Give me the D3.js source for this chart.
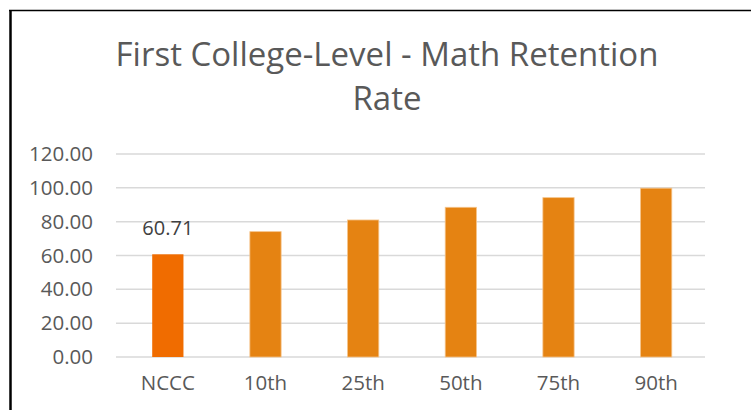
<!DOCTYPE html>
<html>
<head>
<meta charset="utf-8">
<script src="https://cdn.jsdelivr.net/npm/d3@7"></script>
<style>
  body { margin: 0; background: #fff; }
  svg { display: block; }
</style>
</head>
<body>
<script>
// chart data
var categories = ['NCCC', '10th', '25th', '50th', '75th', '90th'];
var values = [60.71, 74.1, 81.0, 88.5, 94.2, 99.8];
var yTicks = [0, 20, 40, 60, 80, 100, 120];
var labelledBar = ['NCCC'];

var w = 751;
var h = 410;
var font = "'Open Sans', sans-serif";

var svg = d3.select('body')
    .append('svg')
    .attr('width', w)
    .attr('height', h);

svg.append('rect')
    .attr('width', w)
    .attr('height', h)
    .attr('fill', '#fff');

// chart frame (only top and left edges show)
svg.append('line')
    .attr('x1', 9).attr('x2', w)
    .attr('y1', 10.5).attr('y2', 10.5)
    .attr('stroke', '#000').attr('stroke-width', 1.5);
svg.append('line')
    .attr('x1', 10.5).attr('x2', 10.5)
    .attr('y1', 10).attr('y2', h)
    .attr('stroke', '#000').attr('stroke-width', 2.5);

// title
var title = svg.append('text')
    .attr('text-anchor', 'middle')
    .attr('font-family', font)
    .attr('font-size', '33px')
    .attr('fill', '#595959');
title.append('tspan').attr('x', 387).attr('y', 66).text('First College-Level - Math Retention');
title.append('tspan').attr('x', 387).attr('y', 110).text('Rate');

var x = d3.scaleBand()
    .domain(categories)
    .range([119, 705])
    .paddingInner(0.68)
    .paddingOuter(0.34);

var y = d3.scaleLinear()
    .domain([0, 120])
    .range([357, 154]);

// gridlines
svg.selectAll('line.grid')
    .data(yTicks)
    .enter()
    .append('line')
    .attr('class', 'grid')
    .attr('x1', 116)
    .attr('x2', 705)
    .attr('y1', function(d){ return y(d); })
    .attr('y2', function(d){ return y(d); })
    .attr('stroke', '#d9d9d9')
    .attr('stroke-width', 1.5);

// y axis labels
var yAxis = d3.axisLeft(y)
    .tickValues(yTicks)
    .tickFormat(d3.format('.2f'))
    .tickSize(0)
    .tickPadding(0);
var gy = svg.append('g')
    .attr('transform', 'translate(93,0)')
    .call(yAxis);
gy.select('.domain').remove();
gy.selectAll('text')
    .attr('font-family', font)
    .attr('font-size', '20.5px')
    .attr('fill', '#595959');

// x axis labels
var xAxis = d3.axisBottom(x).tickSize(0).tickPadding(0);
var gx = svg.append('g')
    .attr('transform', 'translate(0,375)')
    .call(xAxis);
gx.select('.domain').remove();
gx.selectAll('text')
    .attr('font-family', font)
    .attr('font-size', '20.5px')
    .attr('fill', '#595959');

// bars
svg.selectAll('rect.bar')
    .data(values)
    .enter()
    .append('rect')
    .attr('class', 'bar')
    .attr('x', function(d, i){ return x(categories[i]); })
    .attr('y', function(d){ return y(d); })
    .attr('width', x.bandwidth())
    .attr('height', function(d){ return y(0) - y(d); })
    .attr('fill', function(d, i){
        return categories[i] === 'NCCC' ? '#f06c00' : '#e58312';
    })
    .attr('stroke', function(d, i){
        return categories[i] === 'NCCC' ? 'none' : '#f5c48a';
    })
    .attr('stroke-width', 0.8);

// data label on NCCC bar
svg.selectAll('text.val')
    .data(values.filter(function(d, i){ return labelledBar.indexOf(categories[i]) >= 0; }))
    .enter()
    .append('text')
    .attr('class', 'val')
    .attr('text-anchor', 'middle')
    .attr('x', function(d, i){ return x(labelledBar[i]) + x.bandwidth() / 2; })
    .attr('y', function(d){ return y(d) - 19; })
    .attr('font-family', font)
    .attr('font-size', '20px')
    .attr('fill', '#404040')
    .text(function(d){ return d.toFixed(2); });
</script>
</body>
</html>
